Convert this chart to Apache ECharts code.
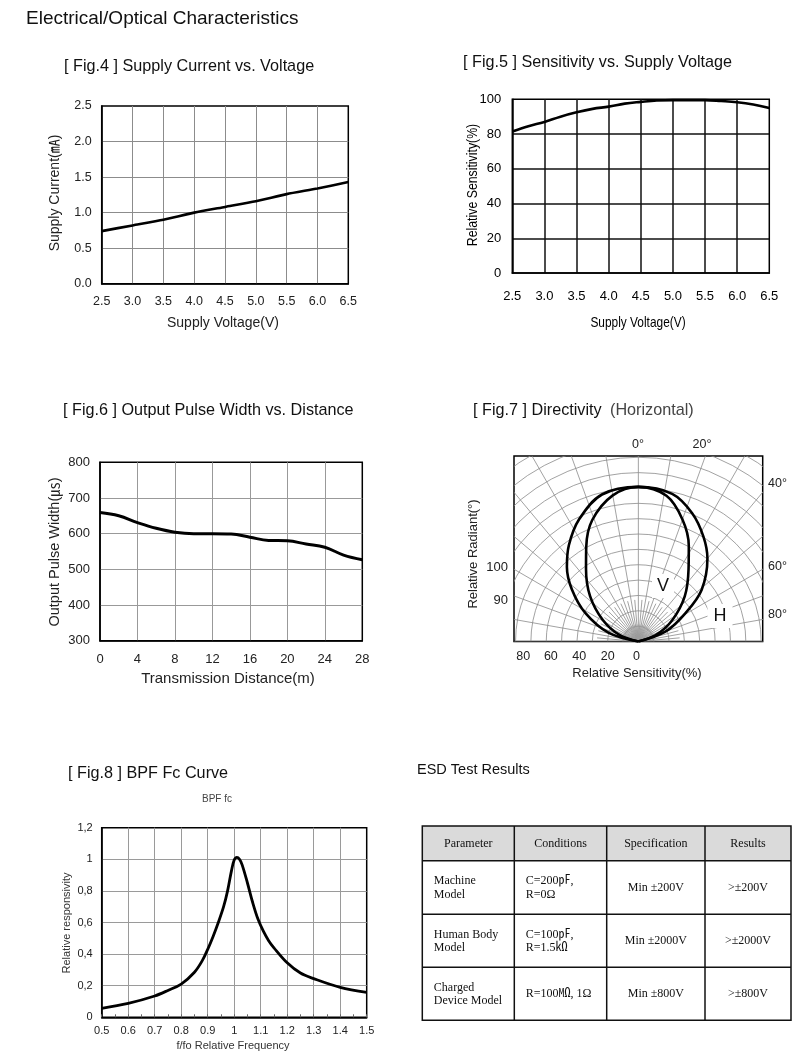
<!DOCTYPE html>
<html><head><meta charset="utf-8">
<script src="https://cdn.jsdelivr.net/npm/echarts@6.0.0/dist/echarts.min.js"></script>
<style>html,body{margin:0;padding:0;background:#fff}#c{width:800px;height:1052px}</style>
</head><body><div id="c"></div>
<script>
// ---------- data ----------
// Fig.4 Supply Current vs. Voltage
const fig4Voltage = [2.5, 3.0, 3.5, 4.0, 4.5, 5.0, 5.5, 6.0, 6.5];
const fig4Current = [0.74, 0.82, 0.90, 1.00, 1.08, 1.16, 1.26, 1.34, 1.43];
// Fig.5 Sensitivity vs. Supply Voltage
const fig5Voltage = [2.5, 2.75, 3.0, 3.25, 3.5, 3.75, 4.0, 4.25, 4.5, 4.75, 5.0, 5.25, 5.5, 5.75, 6.0, 6.25, 6.5];
const fig5Sensitivity = [81.5, 84.5, 87, 90, 92.5, 94.5, 95.8, 97.5, 98.5, 99.3, 99.5, 99.5, 99.5, 99, 98.3, 97, 95];
// Fig.6 Output Pulse Width vs. Distance
const fig6Distance = [0, 2, 4, 6, 8, 10, 12, 14, 16, 18, 20, 22, 24, 26, 28];
const fig6Pulse = [659, 650, 631, 615, 604, 600, 600, 599, 590, 581, 580, 571, 562, 540, 527];
// Fig.7 Directivity (angle from axis in degrees, relative radiant)
const fig7HAngle = [-90, -74, -62, -52, -44, -36, -26, -14, 0, 13, 23, 32, 40, 51, 59, 70, 90];
const fig7HRel   = [0, 20, 39, 55, 67, 77, 88, 98, 100, 98, 90, 80, 70, 53, 36, 19, 0];
const fig7VAngle = [-90, -71, -59, -47, -36, -29, -21, -10, 0, 11, 20, 28, 35, 46, 58, 70, 90];
const fig7VRel   = [0, 13, 27, 43, 58, 70, 84, 96, 100, 96, 84, 70, 57, 42, 26, 12, 0];
const fig7Rings = [10, 20, 30, 40, 50, 60, 70, 80, 90, 100, 110, 120, 130, 140, 150];
const fig7Spokes = [-90, -80, -70, -60, -50, -40, -30, -20, -10, 0, 10, 20, 30, 40, 50, 60, 70, 80, 90];
const fig7FineSpokes = [-85, -75, -65, -55, -45, -35, -25, -15, -5, 5, 15, 25, 35, 45, 55, 65, 75, 85];
const fig7HubSpokes = [-87.5, -82.5, -77.5, -72.5, -67.5, -62.5, -57.5, -52.5, -47.5, -42.5, -37.5, -32.5, -27.5, -22.5, -17.5, -12.5, -7.5, -2.5,
  2.5, 7.5, 12.5, 17.5, 22.5, 27.5, 32.5, 37.5, 42.5, 47.5, 52.5, 57.5, 62.5, 67.5, 72.5, 77.5, 82.5, 87.5];
const fig7BottomTickPos = [-75, -57, -38.5, -20, -1.3];
const fig7BottomTickText = ['80', '60', '40', '20', '0'];
// Fig.8 BPF Fc Curve
const fig8Freq = [0.5, 0.6, 0.7, 0.75, 0.8, 0.85, 0.88, 0.9, 0.92, 0.94, 0.96, 0.975, 0.99, 1.0, 1.01, 1.02, 1.03, 1.05, 1.07, 1.09, 1.11, 1.13, 1.15, 1.2, 1.25, 1.3, 1.4, 1.5];
const fig8Resp = [0.057, 0.088, 0.135, 0.17, 0.21, 0.285, 0.36, 0.43, 0.51, 0.6, 0.7, 0.8, 0.93, 0.995, 1.012, 1.0, 0.965, 0.85, 0.725, 0.62, 0.545, 0.485, 0.44, 0.345, 0.28, 0.245, 0.19, 0.158];
// ESD Test Results
const esdHeaders = ['Parameter', 'Conditions', 'Specification', 'Results'];
const esdParameter = ['Machine\nModel', 'Human Body\nModel', 'Charged\nDevice Model'];
const esdConditions = ['C=200㎊,\nR=0Ω', 'C=100㎊,\nR=1.5㏀', 'R=100㏁, 1Ω'];
const esdSpecification = ['Min ±200V', 'Min ±2000V', 'Min ±800V'];
const esdResults = ['>±200V', '>±2000V', '>±800V'];

// ---------- styles ----------
const SANS = "'Liberation Sans', Arial, 'Noto Sans CJK KR', sans-serif";
const SERIF = "'Liberation Serif', 'Times New Roman', 'Noto Sans CJK KR', serif";
const deg = Math.PI / 180;
const zip = (a, b) => a.map((v, i) => [v, b[i]]);
const polar = (ang, rel) => ang.map((a, i) => [rel[i] * Math.sin(a * deg), rel[i] * Math.cos(a * deg)]);

const gridBoxes = [
  {left: 101.7, top: 106, width: 246.6, height: 177.7},
  {left: 512.3, top: 99.3, width: 257, height: 173.7},
  {left: 100, top: 462.3, width: 262.3, height: 178.4},
  {left: 514, top: 456, width: 248.7, height: 185.5},
  {left: 101.7, top: 827.7, width: 265, height: 189.6}
].map(g => Object.assign({show: true, borderColor: '#000', borderWidth: 1.5, backgroundColor: 'transparent', containLabel: false, outerBoundsMode: 'none'}, g));

function valAxis(grid, min, max, interval, o) {
  return Object.assign({
    gridIndex: grid, type: 'value', min: min, max: max, interval: interval,
    axisLine: {show: true, onZero: false, lineStyle: {color: '#000', width: 1.5}},
    axisTick: {show: false},
    splitLine: {show: true, showMinLine: false, showMaxLine: false, lineStyle: {color: o.gridColor || '#8c8c8c', width: o.gridWidth || 1}},
    axisLabel: {show: true, showMinLabel: true, showMaxLabel: true, margin: o.margin, fontSize: o.fontSize, fontFamily: SANS, color: o.color || '#222', formatter: o.formatter}
  }, o.extra || {});
}
const f1 = v => v.toFixed(1);

const xAxes = [
  valAxis(0, 2.5, 6.5, 0.5, {margin: 12, fontSize: 12.5, formatter: f1}),
  valAxis(1, 2.5, 6.5, 0.5, {margin: 17, fontSize: 13, formatter: f1, gridColor: '#111', gridWidth: 1.5, color: '#000'}),
  valAxis(2, 0, 28, 4, {margin: 12, fontSize: 13, gridColor: '#999'}),
  {gridIndex: 3, type: 'value', min: -81, max: 81,
    axisLine: {show: false}, axisTick: {show: false}, splitLine: {show: false},
    axisLabel: {show: true, customValues: fig7BottomTickPos, margin: 9, fontSize: 12.5, fontFamily: SANS, color: '#222',
      formatter: v => { const i = fig7BottomTickPos.indexOf(v); return i >= 0 ? fig7BottomTickText[i] : ''; }}},
  valAxis(4, 0.5, 1.5, 0.1, {margin: 8, fontSize: 11, gridColor: '#9a9a9a', formatter: v => String(Math.round(v * 10) / 10),
    extra: {axisTick: {show: true, inside: true, length: 3, lineStyle: {color: '#666'}}, minorTick: {show: true, splitNumber: 2, length: 3, lineStyle: {color: '#666'}}}})
];
const yAxes = [
  valAxis(0, 0, 2.5, 0.5, {margin: 10, fontSize: 12.5, formatter: f1}),
  valAxis(1, 0, 100, 20, {margin: 11, fontSize: 13, gridColor: '#111', gridWidth: 1.5, color: '#000'}),
  valAxis(2, 300, 800, 100, {margin: 10, fontSize: 13, gridColor: '#999'}),
  {gridIndex: 3, type: 'value', min: 0, max: 120, show: false, axisLine: {show: false, onZero: false}, splitLine: {show: false}},
  valAxis(4, 0, 1.2, 0.2, {margin: 9, fontSize: 11, gridColor: '#9a9a9a', formatter: v => String(Math.round(v * 10) / 10).replace('.', ',')})
];

const curve = (xi, data, width, smooth) => ({
  type: 'line', xAxisIndex: xi, yAxisIndex: xi, data: data, smooth: smooth, symbol: 'none',
  lineStyle: {color: '#000', width: width}, z: 5, silent: true
});

const gridStroke = {stroke: '#8a8a8a', lineWidth: 0.8, fill: 'none'};
const hubStroke = {stroke: '#a0a0a0', lineWidth: 0.6, fill: 'none'};
const spokeItem = (style) => (p, api) => {
  const a = api.value(0) * deg, len = api.value(1);
  const o = api.coord([0, 0]);
  const e = api.coord([len * Math.sin(a), len * Math.cos(a)]);
  return {type: 'line', shape: {x1: o[0], y1: o[1], x2: e[0], y2: e[1]}, style: style};
};
const series = [
  curve(0, zip(fig4Voltage, fig4Current), 2.6, 0.2),
  curve(1, zip(fig5Voltage, fig5Sensitivity), 2.6, 0.4),
  curve(2, zip(fig6Distance, fig6Pulse), 3, 0.4),
  curve(4, zip(fig8Freq, fig8Resp), 2.8, 0.35),
  // Fig.7 polar grid: rings
  {type: 'custom', xAxisIndex: 3, yAxisIndex: 3, clip: true, silent: true, z: 1,
    data: fig7Rings.map(r => [r, 0]),
    renderItem: (p, api) => {
      const o = api.coord([0, 0]);
      const r = api.size([api.value(0), 0])[0];
      return {type: 'arc', shape: {cx: o[0], cy: o[1], r: r, startAngle: Math.PI, endAngle: Math.PI * 2, clockwise: true}, style: gridStroke};
    }},
  // Fig.7 polar grid: spokes (angle, length)
  {type: 'custom', xAxisIndex: 3, yAxisIndex: 3, clip: true, silent: true, z: 1,
    data: fig7Spokes.map(a => [a, 170]).concat(fig7FineSpokes.map(a => [a, 27])),
    renderItem: spokeItem(gridStroke)},
  {type: 'custom', xAxisIndex: 3, yAxisIndex: 3, clip: true, silent: true, z: 1,
    data: fig7HubSpokes.map(a => [a, 11]),
    renderItem: spokeItem(hubStroke)},
  curve(3, polar(fig7HAngle, fig7HRel), 2.6, 0.35),
  curve(3, polar(fig7VAngle, fig7VRel), 2.6, 0.35)
];

// ---------- text / graphics ----------
function txt(x, y, text, size, o) {
  o = o || {};
  return {type: 'text', x: x, y: y, rotation: o.rot || 0, scaleX: o.sx || 1, z: o.z || 20, silent: true,
    style: {text: text, fontSize: size, fontFamily: o.font || SANS, fill: o.color || '#111',
      align: o.align || 'left', verticalAlign: 'middle', lineHeight: o.lh,
      backgroundColor: o.bg, padding: o.pad}};
}
const R90 = Math.PI / 2;
const graphics = [
  txt(26, 19, 'Electrical/Optical Characteristics', 19),
  // Fig.4
  txt(64, 67, '[ Fig.4 ] Supply Current vs. Voltage', 16.2),
  txt(223, 323, 'Supply Voltage(V)', 14, {align: 'center', color: '#222'}),
  txt(55, 193, 'Supply Current(㎃)', 14, {align: 'center', rot: R90, color: '#222'}),
  // Fig.5
  txt(463, 63, '[ Fig.5 ] Sensitivity vs. Supply Voltage', 16.2),
  txt(638, 323, 'Supply Voltage(V)', 14.5, {align: 'center', sx: 0.82, color: '#000'}),
  txt(473, 185, 'Relative Sensitivity(%)', 15, {align: 'center', rot: R90, sx: 0.82, color: '#000'}),
  // Fig.6
  txt(63, 411, '[ Fig.6 ] Output Pulse Width vs. Distance', 16.2),
  txt(228, 679, 'Transmission Distance(m)', 15, {align: 'center', color: '#222'}),
  txt(55, 552, 'Output Pulse Width(㎲)', 14.5, {align: 'center', rot: R90, color: '#222'}),
  // Fig.7
  txt(473, 411, '[ Fig.7 ] Directivity', 16.2),
  txt(610, 411, '(Horizontal)', 16.2, {color: '#444'}),
  txt(638, 445, '0°', 12.5, {align: 'center', color: '#222'}),
  txt(702, 445, '20°', 12.5, {align: 'center', color: '#222'}),
  txt(768, 484, '40°', 12.5, {color: '#222'}),
  txt(768, 567, '60°', 12.5, {color: '#222'}),
  txt(768, 615, '80°', 12.5, {color: '#222'}),
  txt(508, 567, '100', 13, {align: 'right', color: '#222'}),
  txt(508, 600, '90', 13, {align: 'right', color: '#222'}),
  txt(473, 554, 'Relative Radiant(°)', 13, {align: 'center', rot: R90, color: '#222'}),
  txt(637, 673, 'Relative Sensitivity(%)', 13, {align: 'center', color: '#222'}),
  txt(663, 586, 'V', 18, {align: 'center', bg: '#fff', pad: [3, 5, 3, 5]}),
  txt(720, 616, 'H', 18, {align: 'center', bg: '#fff', pad: [3, 6, 3, 6]}),
  // Fig.8
  txt(68, 774, '[ Fig.8 ] BPF Fc Curve', 16.2),
  txt(217, 799, 'BPF fc', 10, {align: 'center', color: '#444'}),
  txt(233, 1046, 'f/fo Relative Frequency', 11, {align: 'center', color: '#333'}),
  txt(67, 923, 'Relative responsivity', 11, {align: 'center', rot: R90, color: '#333'}),
  // ESD
  txt(417, 770, 'ESD Test Results', 14.5)
];

// ESD table
const colX = [422.3, 514.3, 606.7, 705, 791];
const rowY = [826, 860.7, 914.3, 967.3, 1020.3];
for (let c = 0; c < 4; c++) {
  graphics.push({type: 'rect', z: 15, silent: true,
    shape: {x: colX[c], y: rowY[0], width: colX[c + 1] - colX[c], height: rowY[1] - rowY[0]},
    style: {fill: '#dadada', stroke: null}});
}
const tableCols = [esdParameter, esdConditions, esdSpecification, esdResults];
graphics.push({type: 'rect', z: 18, silent: true,
  shape: {x: colX[0], y: rowY[0], width: colX[4] - colX[0], height: rowY[4] - rowY[0]},
  style: {fill: 'none', stroke: '#111', lineWidth: 1.5}});
for (let c = 1; c < 4; c++) graphics.push({type: 'line', z: 18, silent: true,
  shape: {x1: colX[c], y1: rowY[0], x2: colX[c], y2: rowY[4]}, style: {stroke: '#111', lineWidth: 1.5}});
for (let r = 1; r < 4; r++) graphics.push({type: 'line', z: 18, silent: true,
  shape: {x1: colX[0], y1: rowY[r], x2: colX[4], y2: rowY[r]}, style: {stroke: '#111', lineWidth: 1.5}});
esdHeaders.forEach((h, c) => graphics.push(txt((colX[c] + colX[c + 1]) / 2, (rowY[0] + rowY[1]) / 2, h, 12, {align: 'center', font: SERIF})));
tableCols.forEach((col, c) => col.forEach((t, r) => {
  const cy = (rowY[r + 1] + rowY[r + 2]) / 2 + 0.5;
  const left = c < 2;
  const x = left ? colX[c] + 11.5 : (colX[c] + colX[c + 1]) / 2;
  graphics.push(txt(x, cy, t, 12, {align: left ? 'left' : 'center', font: SERIF, lh: 13.5}));
}));

const chart = echarts.init(document.getElementById('c'), null, {renderer: 'canvas'});
chart.setOption({
  animation: false,
  backgroundColor: '#fff',
  grid: gridBoxes,
  xAxis: xAxes,
  yAxis: yAxes,
  series: series,
  graphic: {elements: graphics}
});
</script></body></html>
